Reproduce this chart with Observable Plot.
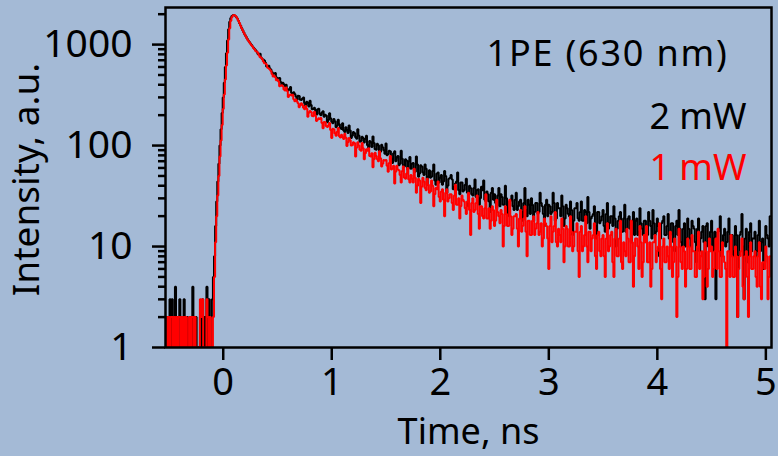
<!DOCTYPE html>
<html>
<head>
<meta charset="utf-8">
<script src="https://cdn.jsdelivr.net/npm/d3@7"></script>
<script src="https://cdn.jsdelivr.net/npm/@observablehq/plot@0.6"></script>
<style>
  html, body { margin: 0; padding: 0; background: #a4bad6; }
</style>
</head>
<body>
<div id="chart"></div>
<script>
// ---- Data ----
const seriesNames = ["2 mW", "1 mW"];
const seriesColors = ["#000000", "#ff0000"];

// early part: -0.53 ns .. 0.29 ns, 0.01 ns channels
const earlyStart = -0.53, earlyStep = 0.01;
const earlyBlack = [
  1,2,1,2,3,1,3,2,1,4, 2,1,2,3,1,2,1,3,2,1, 2,1,1,2,1,4,2,1,2,1, 1,1,2,1,3,1,2,1,4,1, 3,1,2,
  3,5,8,16,28,44,66,100,145,210, 300,420,600,820,1100,1420,1680,1830,1915,1955,
  1962,1935,1880,1810,1720,1630,1545,1460,1385,1318, 1255,1200,1150,1105,1065,1030,995,962,930,902
];
const earlyRed = [
  1,2,1,2,1,2,2,1,2,1, 2,1,2,2,1,2,1,2,1,2, 1,1,2,1,2,2,1,2,1,1, 1,1,3,2,3,1,1,1,3,2, 1,2,1,
  1,2,5,11,20,32,50,78,112,160, 230,320,450,620,830,1120,1450,1720,1870,1945,
  1960,1938,1885,1812,1722,1632,1540,1455,1380,1312, 1250,1195,1145,1100,1058,1022,987,955,922,893
];

// decay part, even channels: 0.30 ns .. 5.04 ns every 0.02 ns
const decayStart = 0.30, decayStep = 0.02;
const decayBlack = [
  878,807,812,722,696,606,617,562,509,524,
  459,467,395,405,400,352,381,319,325,285,
  309,282,299,247,264,278,229,237,202,231,
  200,219,202,170,209,172,183,152,180,149,
  166,136,143,158,119,136,121,145,109,122,
  107,125,95,107,123,92,104,78,102,90,
  105,82,88,67,88,76,64,89,64,73,
  58,77,66,57,78,49,64,54,65,41,
  57,49,65,41,54,48,41,56,34,47,
  51,37,42,54,33,43,36,47,25,38,
  32,46,36,26,39,45,28,33,22,38,
  33,24,38,33,26,40,20,28,32,23,
  34,25,29,18,38,20,26,30,18,27,
  21,34,25,16,29,26,21,34,18,27,
  24,32,16,26,21,28,13,24,27,18,
  28,18,22,31,15,20,25,12,22,18,
  23,14,27,17,20,25,10,18,22,14,
  26,15,20,11,22,18,13,24,15,18,
  11,22,16,23,13,19,8,17,20,13,
  21,13,17,9,18,23,11,15,10,19,
  12,18,15,7,19,12,16,3,17,10,
  18,12,3,14,20,9,15,11,19,13,
  8,16,2,13,21,3,15,7,17,12,
  14,9,18,11,6,16,12,20
];
const decayRed = [
  861,826,748,716,655,632,580,548,482,474,
  451,386,396,360,376,302,320,318,274,273,
  240,262,237,247,193,220,196,216,175,186,
  187,148,170,153,167,119,145,125,149,120,
  121,131,99,119,100,108,78,108,91,106,
  73,92,94,78,61,85,73,88,62,72,
  72,55,79,59,42,63,57,43,62,47,
  60,43,47,59,34,47,27,48,38,47,
  34,45,25,38,44,28,37,20,37,30,
  33,23,41,26,19,32,28,21,34,13,
  30,23,32,15,25,19,33,19,15,25,
  16,29,20,23,10,25,16,29,13,20,
  21,10,23,16,25,8,18,13,20,15,
  22,14,10,19,16,6,20,14,22,10,
  13,19,7,16,10,20,9,14,17,5,
  16,10,20,7,14,12,17,6,14,8,
  13,5,17,10,14,5,15,8,18,6,
  9,15,7,18,4,12,10,16,5,13,
  16,7,4,11,13,9,17,3,12,7,
  8,14,5,12,2,15,7,10,4,12,
  6,13,9,5,14,8,3,11,4,12,
  10,6,12,15,5,11,7,1,9,13,
  5,10,2,8,12,3,9,2,11,6,
  9,4,11,3,7,10,3,8
];

// decay part, odd channels: 0.31 ns .. 5.03 ns every 0.02 ns
const oddStart = 0.31, oddStep = 0.02;
const oddBlack = [
  848,812,746,713,662,604,583,535,518,476,
  463,425,418,384,365,362,334,337,306,311,
  284,293,262,271,244,252,230,222,229,205,
  213,193,199,179,186,166,174,157,163,146,
  141,152,133,141,125,133,117,126,111,119,
  116,101,111,97,106,91,101,87,96,83,
  80,89,74,84,70,79,66,74,62,71,
  70,59,67,55,65,53,62,51,59,49,
  48,56,45,53,43,51,44,50,40,48,
  46,39,44,36,43,35,41,34,40,33,
  38,31,37,30,36,29,35,28,34,29,
  27,32,25,31,26,30,24,29,25,29,
  23,28,22,27,23,29,21,26,22,27,
  22,27,21,26,20,25,22,27,19,24,
  20,25,19,24,20,23,18,24,19,22,
  18,23,17,22,19,21,16,22,17,20,
  16,21,15,20,16,19,15,20,14,19,
  14,19,15,18,13,19,14,17,13,18,
  13,18,12,17,14,16,12,18,13,16,
  12,17,11,16,13,15,10,17,12,15,
  10,16,11,15,9,14,11,16,10,14,
  9,14,10,15,8,13,10,14,9,13,
  9,13,8,14,10,12,7,14,9,12,
  8,13,9,12,7,13,10
];
const oddRed = [
  852,781,746,679,648,589,566,512,490,444,
  430,392,386,351,347,315,314,287,286,262,
  249,254,229,232,211,215,195,198,180,183,
  167,171,155,159,143,147,132,137,124,128,
  116,120,108,113,101,106,95,100,89,94,
  84,89,79,84,73,79,70,75,66,71,
  63,67,58,63,55,58,51,56,48,53,
  46,51,43,48,40,45,39,44,36,41,
  35,40,33,37,31,35,29,34,28,33,
  27,32,26,30,25,29,24,28,23,27,
  22,27,21,25,20,24,19,24,18,23,
  18,22,17,21,16,21,16,20,15,20,
  15,19,14,19,14,18,13,18,13,17,
  13,17,12,17,12,16,11,16,11,15,
  11,15,10,15,10,14,10,14,9,14,
  9,13,10,14,9,13,8,13,9,12,
  8,12,9,13,7,12,8,12,7,11,
  8,12,7,11,8,12,6,11,7,11,
  7,11,6,11,7,10,6,10,7,10,
  6,10,7,10,5,10,6,9,6,10,
  6,9,5,10,6,9,5,9,6,9,
  5,9,6,9,5,8,6,9,5,8,
  5,8,6,9,4,8,5,8,6,8,
  5,8,4,7,6,8,5
];

// axis ticks
const xTicks = [0, 1, 2, 3, 4, 5];
const yMajor = [1, 10, 100, 1000];
const yMinor = [2,3,4,5,6,7,8,9, 20,30,40,50,60,70,80,90, 200,300,400,500,600,700,800,900, 2000];

// texts
const title = "1PE (630 nm)";
const xLabel = "Time, ns";
const yLabel = "Intensity, a.u.";

// ---- Build table ----
function series(name, parts) {
  const out = [];
  for (const [start, step, values] of parts) {
    values.forEach((v, i) => out.push({t: +(start + i * step).toFixed(4), v, s: name}));
  }
  return out.sort((a, b) => a.t - b.t);
}
const rows = [
  ...series(seriesNames[0], [[earlyStart, earlyStep, earlyBlack], [decayStart, decayStep, decayBlack], [oddStart, oddStep, oddBlack]]),
  ...series(seriesNames[1], [[earlyStart, earlyStep, earlyRed], [decayStart, decayStep, decayRed], [oddStart, oddStep, oddRed]])
];

const font = "'Noto Sans', sans-serif";

const chart = Plot.plot({
  width: 778,
  height: 456,
  marginLeft: 165,
  marginRight: 7,
  marginTop: 7,
  marginBottom: 109,
  style: {background: "#a4bad6", fontFamily: font, color: "black", overflow: "visible"},
  x: {type: "linear", domain: [-0.532, 5.052]},
  y: {type: "log", domain: [1, 2330]},
  color: {domain: seriesNames, range: seriesColors},
  marks: [
    Plot.line(rows, {x: "t", y: "v", z: "s", stroke: "s", curve: "step", strokeWidth: 2, clip: true, strokeLinejoin: "miter"}),
    Plot.frame({stroke: "black", strokeWidth: 2.5}),
    Plot.axisY({ticks: yMinor, tickSize: 7, tickFormat: () => "", strokeWidth: 2.5, label: null}),
    Plot.axisY({ticks: yMajor, tickSize: 13, tickPadding: 20, tickFormat: d => String(d), fontSize: 39, strokeWidth: 2.5, label: null}),
    Plot.axisX({ticks: xTicks, tickSize: 13, tickPadding: 8, tickFormat: d => String(d), fontSize: 38, strokeWidth: 2.5, label: null}),
    Plot.text([xLabel], {frameAnchor: "bottom", dy: 71, lineAnchor: "top", textAnchor: "middle", fontSize: 36, fill: "black"}),
    Plot.text([yLabel], {frameAnchor: "left", dx: -138, dy: 2, rotate: -90, textAnchor: "middle", lineAnchor: "middle", fontSize: 37, fill: "black"}),
    Plot.text([title], {frameAnchor: "top-right", dx: -43, dy: 33, textAnchor: "end", lineAnchor: "top", fontSize: 36, fill: "black"}),
    Plot.text([seriesNames[0]], {frameAnchor: "top-right", dx: -25, dy: 96, textAnchor: "end", lineAnchor: "top", fontSize: 36, fill: seriesColors[0]}),
    Plot.text([seriesNames[1]], {frameAnchor: "top-right", dx: -25, dy: 147, textAnchor: "end", lineAnchor: "top", fontSize: 36, fill: seriesColors[1]})
  ]
});
// slightly wider letter spacing for the title, as in the reference typeface
chart.querySelectorAll("text").forEach(el => {
  if (el.textContent === title) el.setAttribute("letter-spacing", "1.8");
});
document.getElementById("chart").appendChild(chart);
</script>
</body>
</html>
